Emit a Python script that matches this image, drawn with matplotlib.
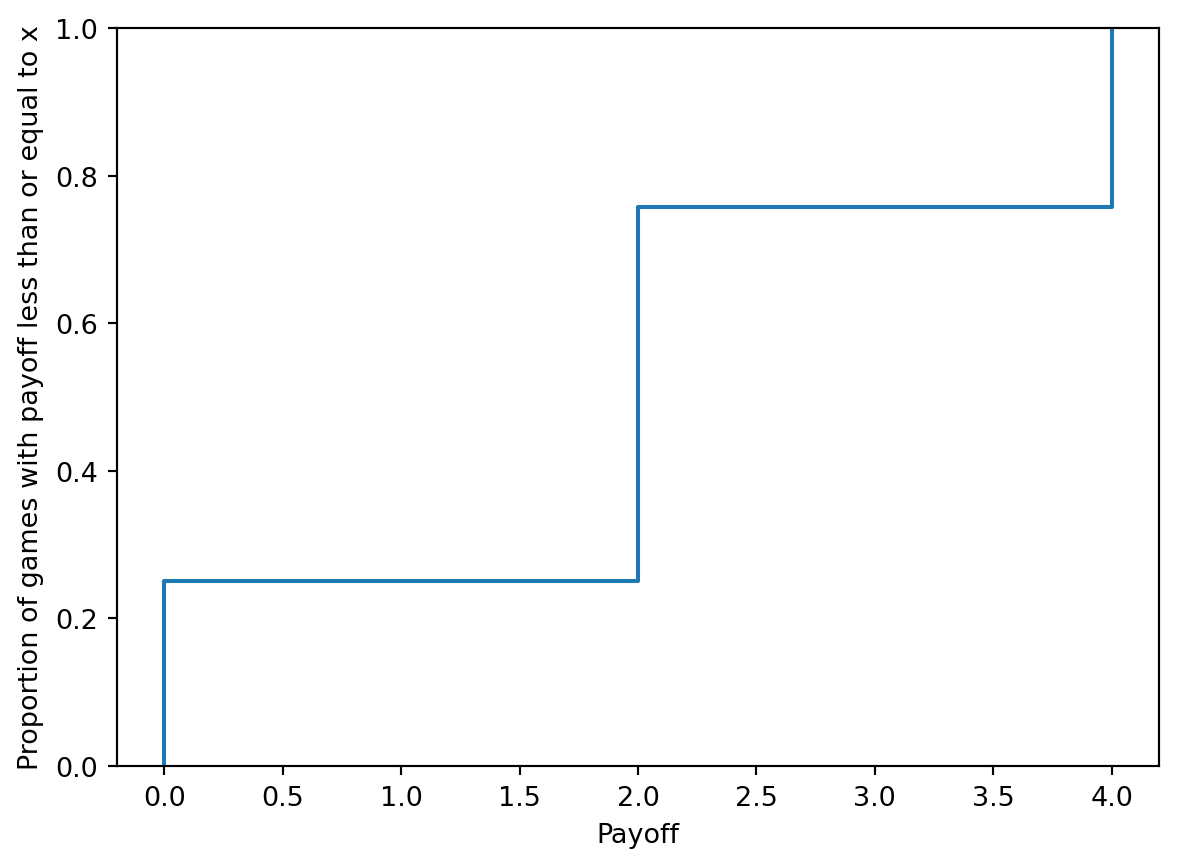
import numpy as np
import matplotlib
matplotlib.use("Agg")
import matplotlib.pyplot as plt

# distinct payoff values and the share of games at each one
payoffs = [0.0, 2.0, 4.0]
shares = [0.25, 0.508, 0.242]

cum = np.cumsum(shares)
x = np.r_[payoffs[0], payoffs]
y = np.r_[0.0, cum]

dpi = 194.5
fig = plt.figure(figsize=(1177 / dpi, 868 / dpi), dpi=dpi)
ax = fig.add_axes([0.0994, 0.1164, 0.8853, 0.8502])
ax.step(x, y, where="post", color="#1f77b4", lw=1.5)
ax.set_xlim(-0.2, 4.2)
ax.set_ylim(0, 1)
ax.set_xlabel("Payoff")
ax.set_ylabel("Proportion of games with payoff less than or equal to x")
fig.savefig("out.png", dpi=dpi)
